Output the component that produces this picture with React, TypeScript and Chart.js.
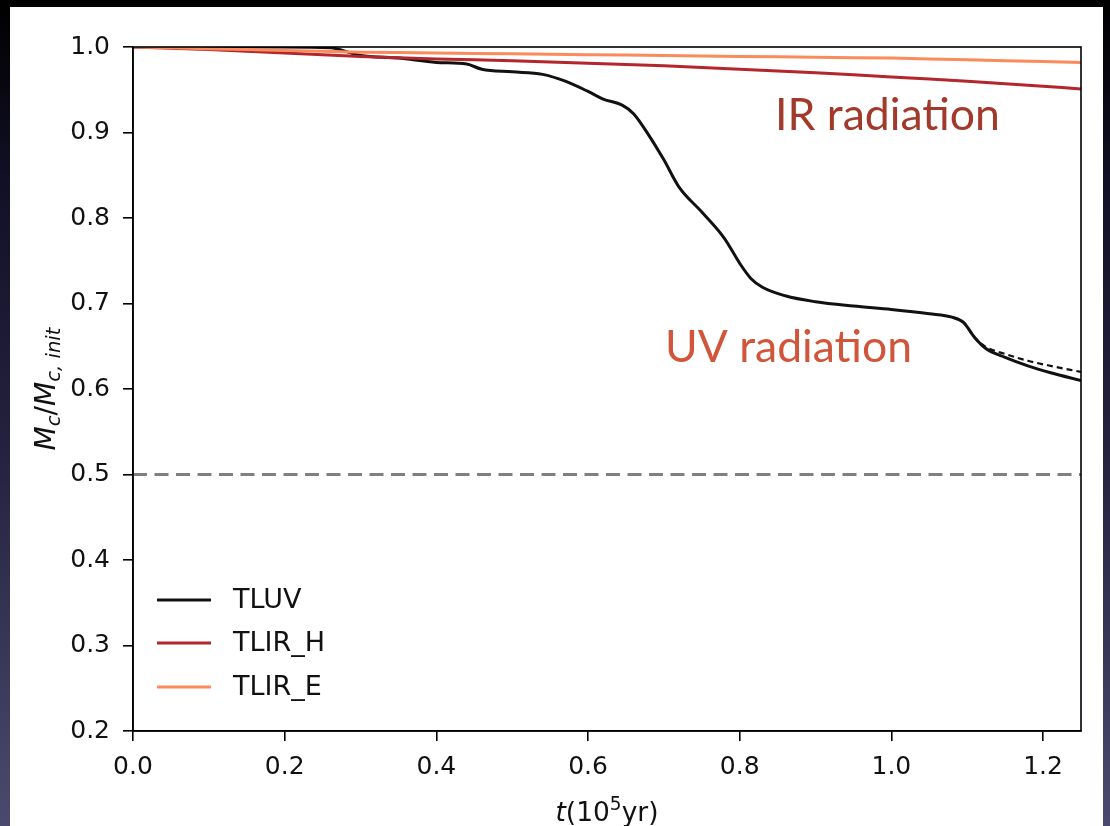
import React, { useEffect, useRef } from "react";
import { Chart, registerables } from "chart.js";

Chart.register(...registerables);

// ---- data ----
const seriesLabels = ["TLUV", "TLIR_H", "TLIR_E"];
const seriesColors = ["#111111", "#b3262b", "#fb8a5c"];

const uvTime = [0, 0.1, 0.2, 0.26, 0.3, 0.35, 0.4, 0.44, 0.46, 0.5, 0.54, 0.57, 0.6, 0.62, 0.645, 0.66, 0.68, 0.7, 0.72, 0.75, 0.78, 0.8, 0.815, 0.83, 0.86, 0.9, 0.95, 1.0, 1.05, 1.08, 1.095, 1.11, 1.125, 1.15, 1.18, 1.21, 1.25];
const uvMass = [1.0, 1.0, 1.0, 0.999, 0.99, 0.987, 0.982, 0.98, 0.974, 0.971, 0.968, 0.96, 0.948, 0.939, 0.932, 0.922, 0.897, 0.868, 0.836, 0.807, 0.776, 0.747, 0.729, 0.719, 0.709, 0.702, 0.697, 0.693, 0.688, 0.684, 0.678, 0.66, 0.647, 0.637, 0.627, 0.619, 0.61];

const uvAltTime = [1.08, 1.095, 1.11, 1.125, 1.15, 1.18, 1.21, 1.25];
const uvAltMass = [0.684, 0.678, 0.66, 0.649, 0.641, 0.633, 0.627, 0.62];

const irHTime = [0, 0.1, 0.2, 0.3, 0.4, 0.5, 0.6, 0.7, 0.8, 0.9, 1.0, 1.1, 1.2, 1.25];
const irHMass = [1.0, 0.997, 0.993, 0.989, 0.986, 0.984, 0.981, 0.978, 0.974, 0.97, 0.965, 0.96, 0.954, 0.951];

const irETime = [0, 0.1, 0.2, 0.3, 0.4, 0.5, 0.6, 0.7, 0.8, 0.9, 1.0, 1.1, 1.2, 1.25];
const irEMass = [1.0, 0.998, 0.996, 0.994, 0.993, 0.992, 0.991, 0.99, 0.989, 0.988, 0.987, 0.985, 0.983, 0.982];

const halfTime = [0, 1.25];
const halfMass = [0.5, 0.5];

const xTicks = [0, 0.2, 0.4, 0.6, 0.8, 1.0, 1.2];
const yTicks = [0.2, 0.3, 0.4, 0.5, 0.6, 0.7, 0.8, 0.9, 1.0];

const notes = [
  { text: "IR radiation", t: 0.8465, m: 0.9029, width: 225, color: "#a23a2b" },
  { text: "UV radiation", t: 0.7015, m: 0.6316, width: 247, color: "#d0553a" },
];

const zip = (xs: number[], ys: number[]) => xs.map((x, i) => ({ x, y: ys[i] }));

type Piece = { text: string; italic?: boolean; scale?: number; dy?: number };

function drawRich(ctx: CanvasRenderingContext2D, pieces: Piece[], cx: number, baseline: number, targetWidth: number, family: string) {
  const base = 24;
  const fontFor = (p: Piece, size: number) => `${p.italic ? "italic " : ""}${size * (p.scale ?? 1)}px ${family}`;
  let w = 0;
  for (const p of pieces) {
    ctx.font = fontFor(p, base);
    w += ctx.measureText(p.text).width;
  }
  const size = base * targetWidth / w;
  let x = cx - targetWidth / 2;
  ctx.textAlign = "left";
  ctx.textBaseline = "alphabetic";
  for (const p of pieces) {
    ctx.font = fontFor(p, size);
    ctx.fillText(p.text, x, baseline + (p.dy ?? 0) * size / base);
    x += ctx.measureText(p.text).width;
  }
}

const decorPlugin = {
  id: "decor",
  afterDraw(chart: any) {
    const { ctx, chartArea: a, scales } = chart;
    ctx.save();
    // frame
    ctx.strokeStyle = "#000";
    ctx.lineWidth = 1.6;
    ctx.strokeRect(a.left, a.top, a.right - a.left, a.bottom - a.top);

    // legend
    const rows = [593, 636, 680];
    seriesLabels.forEach((lab, i) => {
      const y = rows[i];
      ctx.strokeStyle = seriesColors[i];
      ctx.lineWidth = 3;
      ctx.setLineDash([]);
      ctx.beginPath();
      ctx.moveTo(147, y);
      ctx.lineTo(201, y);
      ctx.stroke();
      ctx.fillStyle = "#111";
      ctx.font = "27px 'DejaVu Sans'";
      ctx.textAlign = "left";
      ctx.textBaseline = "middle";
      ctx.fillText(lab, 223, y + 1);
    });

    // annotations
    for (const n of notes) {
      const x = scales.x.getPixelForValue(n.t);
      const y = scales.y.getPixelForValue(n.m);
      ctx.font = "40px Lato";
      const w = ctx.measureText(n.text).width;
      const size = 40 * n.width / w;
      ctx.font = `${size}px Lato`;
      ctx.fillStyle = n.color;
      ctx.textAlign = "left";
      ctx.textBaseline = "alphabetic";
      ctx.fillText(n.text, x, y);
    }

    // x title
    ctx.fillStyle = "#111";
    drawRich(ctx, [
      { text: "t", italic: true },
      { text: "(10" },
      { text: "5", scale: 0.7, dy: -10 },
      { text: "yr)" },
    ], (a.left + a.right) / 2, 814, 103, "'DejaVu Sans'");

    // y title
    ctx.save();
    ctx.translate(45, (a.top + a.bottom) / 2);
    ctx.rotate(-Math.PI / 2);
    drawRich(ctx, [
      { text: "M", italic: true },
      { text: "c", italic: true, scale: 0.7, dy: 4 },
      { text: "/" },
      { text: "M", italic: true },
      { text: "c, init", italic: true, scale: 0.7, dy: 4 },
    ], 0, 0, 123, "'DejaVu Sans'");
    ctx.restore();
    ctx.restore();
  },
};

export default function App() {
  const ref = useRef<HTMLCanvasElement>(null);

  useEffect(() => {
    const canvas = ref.current;
    if (!canvas) return;
    const chart = new Chart(canvas, {
      type: "line",
      data: {
        datasets: [
          { label: "half", data: zip(halfTime, halfMass), borderColor: "#808080", borderWidth: 2.8, borderDash: [14, 7.5], pointRadius: 0, tension: 0 },
          { label: seriesLabels[2], data: zip(irETime, irEMass), borderColor: seriesColors[2], borderWidth: 3, pointRadius: 0, tension: 0.3 },
          { label: seriesLabels[1], data: zip(irHTime, irHMass), borderColor: seriesColors[1], borderWidth: 3, pointRadius: 0, tension: 0.3 },
          { label: "TLUV alt", data: zip(uvAltTime, uvAltMass), borderColor: "#111", borderWidth: 2.2, borderDash: [6, 4], pointRadius: 0, cubicInterpolationMode: "monotone" },
          { label: seriesLabels[0], data: zip(uvTime, uvMass), borderColor: seriesColors[0], borderWidth: 3, pointRadius: 0, cubicInterpolationMode: "monotone" },
        ],
      },
      options: {
        animation: false,
        responsive: false,
        devicePixelRatio: 1,
        layout: { padding: { top: 40, right: 22, left: 0, bottom: 0 } },
        plugins: { legend: { display: false }, tooltip: { enabled: false } },
        scales: {
          x: {
            type: "linear",
            min: 0,
            max: 1.25,
            afterBuildTicks: (s: any) => { s.ticks = xTicks.map((v) => ({ value: v })); },
            afterFit: (s: any) => { s.height = 95; },
            ticks: { callback: (v: any) => Number(v).toFixed(1), font: { size: 25, family: "'DejaVu Sans'" }, color: "#111", padding: 11, maxRotation: 0, autoSkip: false },
            grid: { drawOnChartArea: false, drawTicks: true, tickLength: 10, color: "#000", lineWidth: 1.6 },
            border: { display: true, color: "#000", width: 1.6 },
          },
          y: {
            type: "linear",
            min: 0.2,
            max: 1.0,
            afterBuildTicks: (s: any) => { s.ticks = yTicks.map((v) => ({ value: v })); },
            afterFit: (s: any) => { s.width = 123; },
            ticks: { callback: (v: any) => Number(v).toFixed(1), font: { size: 25, family: "'DejaVu Sans'" }, color: "#111", padding: 13, autoSkip: false },
            grid: { drawOnChartArea: false, drawTicks: true, tickLength: 10, color: "#000", lineWidth: 1.6 },
            border: { display: true, color: "#000", width: 1.6 },
          },
        },
      },
      plugins: [decorPlugin],
    });
    return () => chart.destroy();
  }, []);

  return (
    <div style={{ position: "fixed", left: 0, top: 0, width: 1110, height: 826, background: "linear-gradient(to bottom, #000000 0%, #14122a 25%, #25223f 55%, #4b4a6e 100%)" }}>
      <div style={{ position: "absolute", left: 10, top: 7, width: 1093, height: 819, background: "#ffffff" }}>
        <canvas ref={ref} width={1093} height={819} style={{ display: "block", width: 1093, height: 819 }} />
      </div>
    </div>
  );
}
